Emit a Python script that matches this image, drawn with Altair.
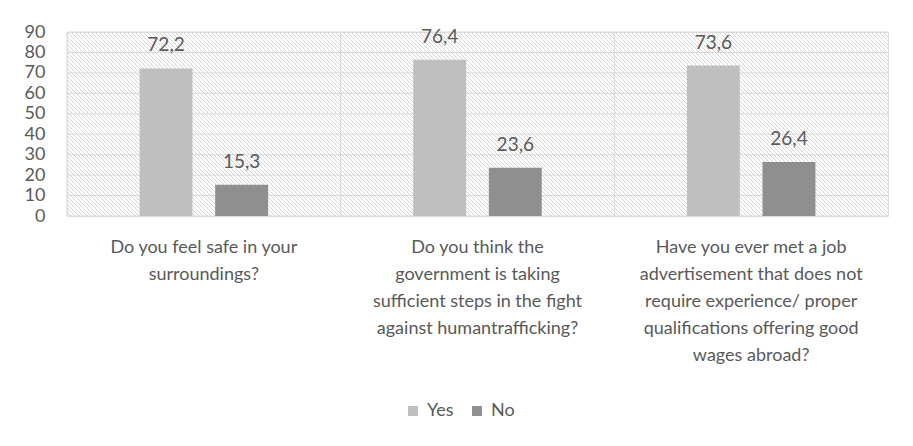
import altair as alt
import pandas as pd

# ---- data ----
question_lines = [
    ["Do you feel safe in your", "surroundings?"],
    ["Do you think the", "government is taking", "sufficient steps in the fight", "against humantrafficking?"],
    ["Have you ever met a job", "advertisement that does not", "require experience/ proper",
     "qualifications offering good", "wages abroad?"],
]
questions = ["\n".join(q) for q in question_lines]
answers = ["Yes", "No"]
yes_values = [72.2, 76.4, 73.6]
no_values = [15.3, 23.6, 26.4]
y_ticks = [0, 10, 20, 30, 40, 50, 60, 70, 80, 90]

rows = []
for q, y, n in zip(questions, yes_values, no_values):
    rows.append({"question": q, "answer": "Yes", "value": y})
    rows.append({"question": q, "answer": "No", "value": n})
df = pd.DataFrame(rows)
grid_df = pd.DataFrame({"tick": y_ticks})
cat_df = pd.DataFrame({"question": questions})

W, H = 821, 184
FONT = "Lato"
TXT = "#595959"
GRID = "#d9d9d9"

# ---- decorative hatch background ----
hatch = (
    alt.Chart(alt.sequence(start=-H, stop=W + 1, step=4, as_="c"))
    .transform_calculate(c2=f"datum.c + {H}", yt=f"{H}", yb="0")
    .mark_rule(clip=True, stroke="#d6d6d6", strokeWidth=1)
    .encode(
        x=alt.X("c:Q", scale=alt.Scale(domain=[0, W], nice=False, zero=False), axis=None),
        x2="c2:Q",
        y=alt.Y("yt:Q", scale=alt.Scale(domain=[0, H], nice=False), axis=None),
        y2="yb:Q",
    )
)

xscale = alt.Scale(domain=questions, paddingInner=0, paddingOuter=0)
yscale = alt.Scale(domain=[0, 90], nice=False)
offscale = alt.Scale(paddingInner=0.3, paddingOuter=0.96)

xaxis = alt.Axis(
    title=None, ticks=False, domain=False, grid=False, labelAngle=0,
    labelExpr="split(datum.label, '\\n')", labelAlign="center",
    labelPadding=22, labelFontSize=18, labelLineHeight=27,
    labelBaseline="top", labelLimit=0, labelColor=TXT, labelFont=FONT,
    labelOverlap=False,
)
yaxis = alt.Axis(
    title=None, ticks=False, domain=False, grid=False, values=y_ticks,
    labelPadding=22, labelFontSize=18, labelColor=TXT, labelFont=FONT,
    labelOverlap=False,
)

hgrid = alt.Chart(grid_df).mark_rule(color=GRID, strokeWidth=1).encode(
    y=alt.Y("tick:Q", scale=yscale, axis=yaxis)
)
vgrid = alt.Chart(cat_df).mark_rule(color=GRID, strokeWidth=1).encode(
    x=alt.X("question:N", scale=xscale, sort=questions, bandPosition=0, axis=xaxis)
)

bars = alt.Chart(df).mark_bar().encode(
    x=alt.X("question:N", scale=xscale, sort=questions, axis=xaxis),
    xOffset=alt.XOffset("answer:N", sort=answers, scale=offscale),
    y=alt.Y("value:Q", scale=yscale, axis=yaxis),
    color=alt.Color(
        "answer:N",
        sort=answers,
        scale=alt.Scale(domain=answers, range=["#bfbfbf", "#8f8f8f"]),
        legend=alt.Legend(
            title=None, orient="none", direction="horizontal",
            legendX=337, legendY=370, symbolType="square", symbolSize=100,
            symbolStrokeWidth=0, labelFontSize=18, labelColor=TXT, labelFont=FONT,
            columnPadding=14, labelOffset=5, padding=0,
        ),
    ),
)

labels = (
    alt.Chart(df)
    .transform_calculate(lbl="replace(format(datum.value, '.1f'), '.', ',')")
    .mark_text(baseline="alphabetic", dy=-17, fontSize=19, color=TXT, font=FONT)
    .encode(
        x=alt.X("question:N", scale=xscale, sort=questions, axis=xaxis),
        xOffset=alt.XOffset("answer:N", sort=answers, scale=offscale),
        y=alt.Y("value:Q", scale=yscale, axis=yaxis),
        text="lbl:N",
    )
)

main = alt.layer(hgrid, vgrid, bars, labels)

chart = (
    alt.layer(hatch, main)
    .resolve_scale(x="independent", y="independent")
    .properties(
        width=W, height=H,
        autosize=alt.AutoSizeParams(type="none"),
        padding={"left": 59, "top": 24, "right": 10, "bottom": 220},
    )
    .configure_view(stroke=GRID, strokeWidth=1)
    .configure_axis(labelOverlap=False)
    .configure(font=FONT, background="white")
)

chart.save("out.html", embed_options={"renderer": "svg", "actions": False})
